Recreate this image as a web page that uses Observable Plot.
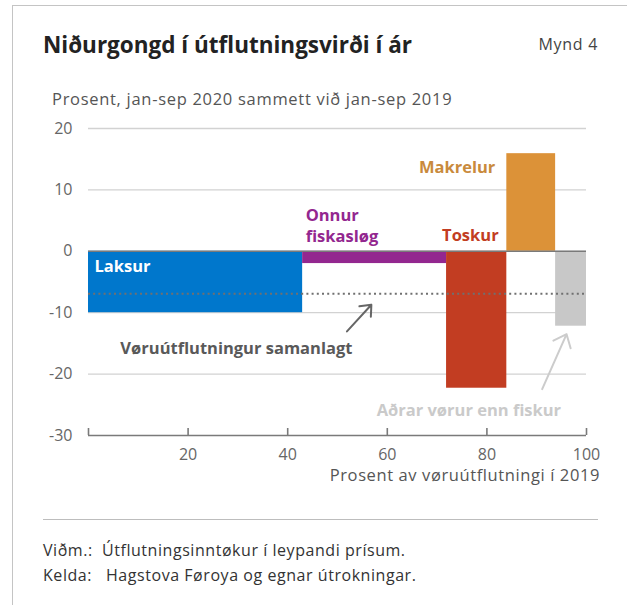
<!DOCTYPE html>
<html>
<head>
<meta charset="utf-8">
<script src="https://cdn.jsdelivr.net/npm/d3@7"></script>
<script src="https://cdn.jsdelivr.net/npm/@observablehq/plot@0.6"></script>
<style>
  html, body { margin: 0; padding: 0; background: #fff; }
  #wrap { position: relative; width: 627px; height: 605px; overflow: hidden; font-family: "Open Sans", sans-serif; color: #333; }
  .abs { position: absolute; line-height: 1; white-space: nowrap; }
  #chart { position: absolute; left: 0; top: 0; }
</style>
</head>
<body>
<div id="wrap">
  <div class="abs" style="left:12px;top:5px;width:1px;height:600px;background:#c4c4c4"></div>
  <div class="abs" style="left:12px;top:5px;width:615px;height:1px;background:#c4c4c4"></div>
  <div id="chart"></div>
  <div class="abs" id="title" style="left:43px;top:34px;font-size:22.5px;font-weight:700;color:#222"></div>
  <div class="abs" id="fig" style="right:29px;top:36px;font-size:16px;letter-spacing:0.7px;color:#444"></div>
  <div class="abs" id="subtitle" style="left:52px;top:90.5px;font-size:16.5px;letter-spacing:0.7px;color:#555"></div>
  <div class="abs" id="xlabel" style="right:27px;top:467px;font-size:16.5px;letter-spacing:0.6px;color:#555"></div>
  <div class="abs" style="left:43px;top:519px;width:555px;height:1px;background:#bdbdbd"></div>
  <div class="abs" id="n1a" style="left:43px;top:542px;font-size:16px;letter-spacing:0.55px;color:#333"></div>
  <div class="abs" id="n1b" style="left:102px;top:542px;font-size:16px;letter-spacing:0.55px;color:#333"></div>
  <div class="abs" id="n2a" style="left:43px;top:567px;font-size:16px;letter-spacing:0.55px;color:#333"></div>
  <div class="abs" id="n2b" style="left:106px;top:567px;font-size:16px;letter-spacing:0.55px;color:#333"></div>
</div>
<script>
// ---- Data ----
const titleText = "Niðurgongd í útflutningsvirði í ár";
const figText = "Mynd 4";
const subtitleText = "Prosent, jan-sep 2020 sammett við jan-sep 2019";
const xLabelText = "Prosent av vøruútflutningi í 2019";
const noteLabels = ["Viðm.:", "Kelda:"];
const noteTexts = ["Útflutningsinntøkur í leypandi prísum.", "Hagstova Føroya og egnar útrokningar."];

const categories = ["Laksur", "Onnur fiskasløg", "Toskur", "Makrelur", "Aðrar vørur enn fiskur"];
const shares2019 = [43.0, 28.9, 12.1, 9.8, 6.2];      // width: % of goods exports 2019
const changes = [-10.0, -2.0, -22.3, 15.9, -12.2];    // % change jan-sep 2020 vs 2019
const barColors = ["#0077cc", "#93278f", "#c23d22", "#dc9238", "#c8c8c8"];
const totalChange = -6.9;                              // Vøruútflutningur samanlagt

const yTicks = [-30, -20, -10, 0, 10, 20];
const yGrid = [-20, -10, 10, 20];
const xTicks = [0, 20, 40, 60, 80, 100];
const xTickLabels = [20, 40, 60, 80, 100];

// annotation labels (data units)
const labelTexts = ["Laksur", "Onnur\nfiskasløg", "Toskur", "Makrelur", "Aðrar vørur enn fiskur", "Vøruútflutningur samanlagt"];
const labelX = [1.2, 43.6, 71.0, 81.7, 94.9, 6.4];
const labelY = [-3.4, 1.5, 1.75, 12.8, -26.8, -16.7];
const labelColors = ["#ffffff", "#93278f", "#c23d22", "#c98a3c", "#cacaca", "#595959"];
const labelAnchors = ["start", "start", "start", "end", "end", "start"];

const arrowX1 = [51.9, 91.1];
const arrowY1 = [-13.05, -22.45];
const arrowX2 = [56.8, 96.0];
const arrowY2 = [-8.7, -13.5];
const arrowColors = ["#666666", "#cccccc"];

// ---- Build tables ----
let acc = 0;
const bars = categories.map((c, i) => {
  const x1 = acc; acc += shares2019[i];
  return {category: c, x1, x2: acc, value: changes[i], color: barColors[i]};
});
const labels = labelTexts.map((t, i) => ({text: t, x: labelX[i], y: labelY[i], color: labelColors[i], anchor: labelAnchors[i]}));
const arrows = arrowX1.map((x, i) => ({x1: x, y1: arrowY1[i], x2: arrowX2[i], y2: arrowY2[i], color: arrowColors[i]}));

// ---- Text ----
document.getElementById("title").textContent = titleText;
document.getElementById("fig").textContent = figText;
document.getElementById("subtitle").textContent = subtitleText;
document.getElementById("xlabel").textContent = xLabelText;
document.getElementById("n1a").textContent = noteLabels[0];
document.getElementById("n2a").textContent = noteLabels[1];
document.getElementById("n1b").textContent = noteTexts[0];
document.getElementById("n2b").textContent = noteTexts[1];

// ---- Plot ----
const textMarks = ["start", "end"].map(a => Plot.text(labels.filter(d => d.anchor === a), {
  x: "x", y: "y", text: "text", fill: "color", textAnchor: a, lineAnchor: "bottom",
  fontSize: 16.5, fontWeight: 700, lineHeight: 1.25
}));

const chart = Plot.plot({
  width: 627,
  height: 500,
  marginLeft: 88,
  marginRight: 41,
  marginTop: 128,
  marginBottom: 65,
  style: {fontFamily: "Open Sans, sans-serif", background: "transparent", overflow: "visible"},
  x: {domain: [0, 100]},
  y: {domain: [-30, 20]},
  marks: [
    Plot.ruleY(yGrid, {stroke: "#d2d2d2", strokeWidth: 1.3}),
    Plot.rect(bars, {x1: "x1", x2: "x2", y1: 0, y2: "value", fill: "color"}),
    Plot.ruleY([totalChange], {stroke: "#707070", strokeWidth: 2, strokeDasharray: "2,3.2"}),
    Plot.ruleY([0], {stroke: "#7a7a7a", strokeWidth: 1.6}),
    Plot.ruleY([-30], {stroke: "#7a7a7a", strokeWidth: 1.6}),
    Plot.axisY({ticks: yTicks, tickSize: 0, tickPadding: 16, fontSize: 16, color: "#666", label: null, tickFormat: d => String(d)}),
    Plot.axisX({ticks: xTicks, tickSize: 7, dy: -7, tickFormat: () => "", label: null, stroke: "#7a7a7a", strokeWidth: 1.6}),
    Plot.axisX({ticks: xTickLabels, tickSize: 0, tickPadding: 13, fontSize: 16, color: "#666", label: null}),
    ...textMarks,
    Plot.arrow(arrows, {x1: "x1", y1: "y1", x2: "x2", y2: "y2", stroke: "color", strokeWidth: 2, headLength: 11, headAngle: 80})
  ]
});
document.getElementById("chart").appendChild(chart);
</script>
</body>
</html>
